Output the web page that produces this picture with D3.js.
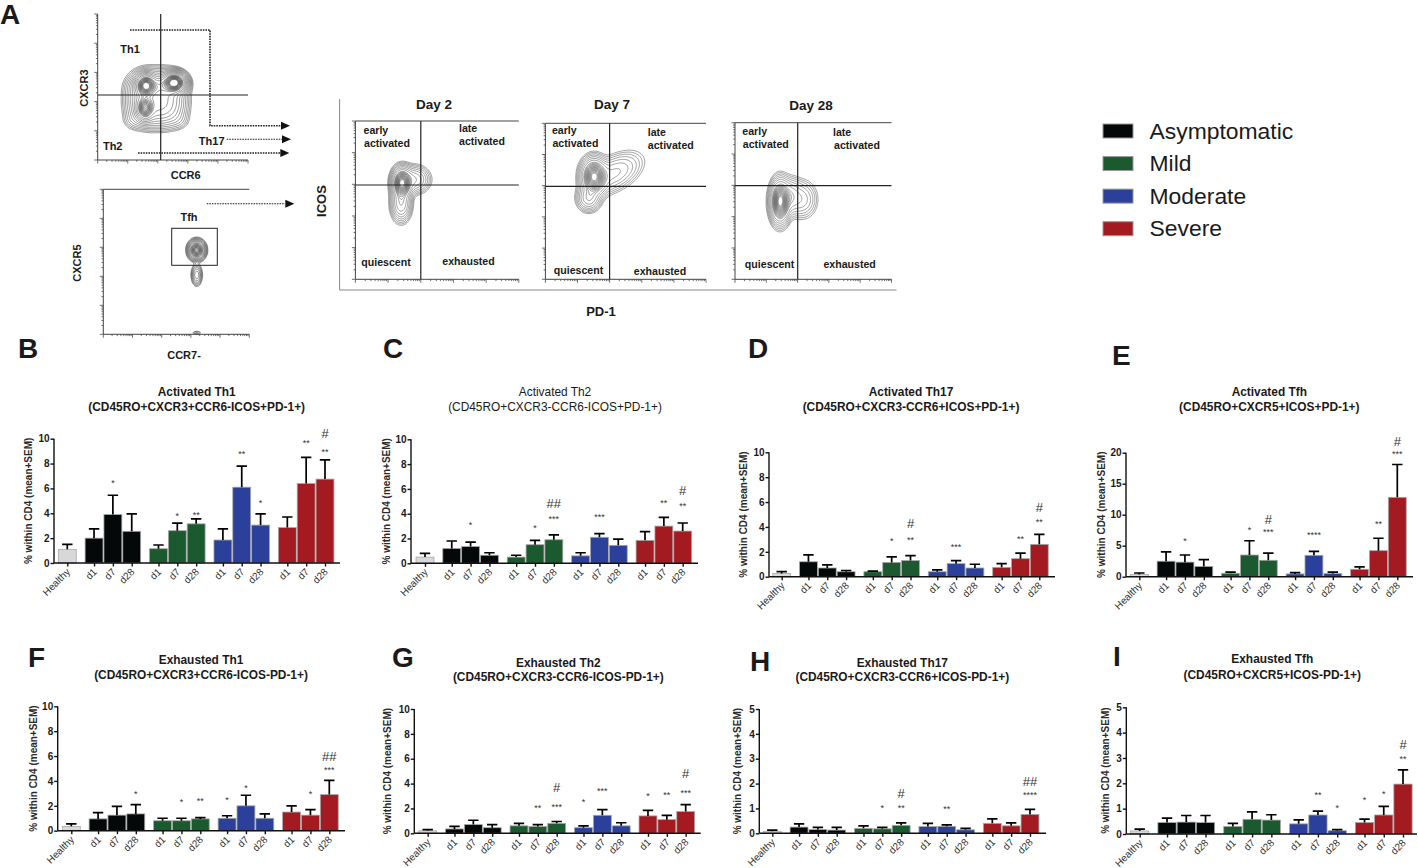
<!DOCTYPE html>
<html><head><meta charset="utf-8">
<script src="https://cdnjs.cloudflare.com/ajax/libs/d3/7.8.5/d3.min.js"></script>
<style>
html,body{margin:0;padding:0;background:#fff}
svg{display:block}
text{font-family:"Liberation Sans",Arial,sans-serif;fill:#1a1a1a}
</style></head><body>
<svg id="c" width="1418" height="868" viewBox="0 0 1418 868"></svg>
<script>
// ---------- DATA ----------
const barLabels = ["Healthy","d1","d7","d28","d1","d7","d28","d1","d7","d28","d1","d7","d28"];
const barGroups = ["healthy","Asymptomatic","Asymptomatic","Asymptomatic","Mild","Mild","Mild","Moderate","Moderate","Moderate","Severe","Severe","Severe"];
const legendLabels = ["Asymptomatic","Mild","Moderate","Severe"];
const yTitle = "% within CD4 (mean+SEM)";

const meanB = [1.1,2.0,3.9,2.55,1.15,2.6,3.15,1.85,6.1,3.05,2.85,6.4,6.75];
const topB  = [1.5,2.75,5.45,3.95,1.45,3.2,3.55,2.75,7.8,3.95,3.7,8.5,8.3];
const meanC = [0.5,1.2,1.35,0.65,0.5,1.5,1.9,0.6,2.1,1.45,1.85,3.0,2.6];
const topC  = [0.8,1.8,1.7,0.85,0.65,1.85,2.3,0.85,2.4,1.95,2.55,3.7,3.25];
const meanD = [0.25,1.2,0.7,0.4,0.4,1.15,1.3,0.4,1.05,0.7,0.75,1.45,2.6];
const topD  = [0.4,1.75,0.95,0.5,0.45,1.6,1.7,0.55,1.3,1.0,1.05,1.9,3.4];
const meanE = [0.35,2.5,2.35,1.65,0.55,3.5,2.65,0.45,3.45,0.5,1.2,4.2,12.8];
const topE  = [0.6,4.0,3.5,2.75,0.75,5.8,3.8,0.65,4.1,0.75,1.6,6.2,18.1];
const meanF = [0.35,0.95,1.25,1.35,0.8,0.8,0.95,1.0,2.0,1.0,1.5,1.25,2.9];
const topF  = [0.55,1.45,1.95,2.1,1.0,1.0,1.05,1.2,2.85,1.35,2.0,1.7,4.05];
const meanG = [0.2,0.35,0.7,0.45,0.6,0.55,0.8,0.45,1.45,0.6,1.4,1.1,1.75];
const topG  = [0.3,0.55,1.05,0.7,0.8,0.7,0.95,0.6,1.9,0.85,1.85,1.45,2.3];
const meanH = [0.08,0.25,0.15,0.13,0.2,0.18,0.32,0.27,0.28,0.14,0.4,0.3,0.76];
const topH  = [0.13,0.38,0.24,0.24,0.3,0.24,0.42,0.4,0.34,0.2,0.58,0.42,0.96];
const meanI = [0.12,0.45,0.47,0.45,0.3,0.58,0.55,0.4,0.75,0.13,0.45,0.75,1.97];
const topI  = [0.19,0.63,0.73,0.73,0.42,0.87,0.76,0.56,0.9,0.17,0.59,1.09,2.53];

// significance marks: [bar index, label, height in axis units]
const marksB = [[2,"*",6.55],[5,"*",3.9],[6,"**",4.0],[8,"**",8.9],[9,"*",5.0],[11,"**",9.8],[12,"**",9.1],[12,"#",10.4]];
const marksC = [[2,"*",3.2],[5,"*",3.0],[6,"***",3.75],[6,"##",4.8],[8,"***",3.9],[11,"**",5.0],[12,"**",4.8],[12,"#",5.85]];
const marksD = [[5,"*",3.0],[6,"**",3.1],[6,"#",4.3],[8,"***",2.55],[11,"**",3.2],[12,"**",4.55],[12,"#",5.6]];
const marksE = [[2,"*",6.05],[5,"*",7.8],[6,"***",7.45],[6,"#",9.3],[8,"****",7.0],[11,"**",8.85],[12,"***",20.1],[12,"#",21.8]];
const marksF = [[3,"*",3.1],[5,"*",2.45],[6,"**",2.5],[7,"*",2.65],[8,"*",3.6],[11,"*",3.1],[12,"***",5.05],[12,"##",5.95]];
const marksG = [[5,"**",2.2],[6,"***",2.3],[6,"#",3.65],[7,"*",2.7],[8,"***",3.55],[10,"*",3.15],[11,"**",3.25],[12,"***",3.4],[12,"#",4.8]];
const marksH = [[5,"*",1.1],[6,"**",1.1],[6,"#",1.62],[8,"**",1.05],[12,"****",1.6],[12,"##",2.1]];
const marksI = [[8,"**",1.6],[9,"*",1.1],[10,"*",1.42],[11,"*",1.65],[12,"**",3.05],[12,"#",3.55]];

// flow cytometry density peaks, in channel units (0-100 on each axis)
const blobsTh = [
 {x:39,y:42,sx:10.5,sy:10.5,w:.3,p:2.6},{x:24,y:27,sx:4,sy:3.5,w:.012},{x:54,y:27,sx:4,sy:3.5,w:.01},{x:32,y:51,sx:3.2,sy:3.6,w:.9},{x:51,y:53,sx:3.6,sy:3.2,w:1.1},{x:31.5,y:35.6,sx:2.8,sy:4,w:.7},{x:41,y:51,sx:7,sy:3,w:.12}];
const blobsTfh = [
 {x:64,y:58.1,sx:2.3,sy:2.7,w:1},{x:64,y:40.9,sx:1.6,sy:3.2,w:.09},{x:64,y:1,sx:1.8,sy:.7,w:.012}];
const blobsDay2 = [
 {x:28.5,y:60.8,sx:2.9,sy:4.6,w:1},{x:28,y:48,sx:3,sy:5.5,w:.3},{x:36,y:63,sx:4.6,sy:4.2,w:.2}];
const blobsDay7 = [
 {x:30.3,y:65.8,sx:3.8,sy:5.5,w:1},{x:27,y:52,sx:3.5,sy:4,w:.25},{x:43,y:68,sx:9,sy:5,w:.18,r:.55}];
const blobsDay28 = [
 {x:28.8,y:49.6,sx:3,sy:6.5,w:1},{x:43,y:51,sx:4.6,sy:5.8,w:.13},{x:35,y:53,sx:4,sy:5.5,w:.22}];

// ---------- LAYOUT ----------
const COL = {healthy:"#d8d8d8",Asymptomatic:"#050808",Mild:"#1b5a2f",Moderate:"#2b409a",Severe:"#a31b20"};
const panels = [
 {L:"B",lx:18,ly:358,t1:"Activated Th1",t2:"(CD45RO+CXCR3+CCR6-ICOS+PD-1+)",tx:196.7,ty:[392.3,406.7],bold:true,ax:54,y0:563,yt:438.7,c0:67.3,c1:325,end:340,max:10,step:2,ytx:29,mean:meanB,top:topB,marks:marksB},
 {L:"C",lx:383,ly:358,t1:"Activated Th2",t2:"(CD45RO+CXCR3-CCR6-ICOS+PD-1+)",tx:555,ty:[392.3,406.7],bold:false,ax:411,y0:563.3,yt:439.3,c0:425,c1:682.7,end:698,max:10,step:2,ytx:387,mean:meanC,top:topC,marks:marksC},
 {L:"D",lx:748,ly:358,t1:"Activated Th17",t2:"(CD45RO+CXCR3-CCR6+ICOS+PD-1+)",tx:911,ty:[392.3,406.7],bold:true,ax:769,y0:576.7,yt:452.3,c0:781.7,c1:1039.3,end:1055,max:10,step:2,ytx:743,mean:meanD,top:topD,marks:marksD},
 {L:"E",lx:1112,ly:365,t1:"Activated Tfh",t2:"(CD45RO+CXCR5+ICOS+PD-1+)",tx:1269.3,ty:[392.3,406.7],bold:true,ax:1126,y0:576.7,yt:452.7,c0:1139.3,c1:1397.3,end:1413,max:20,step:5,ytx:1102,mean:meanE,top:topE,marks:marksE},
 {L:"F",lx:28,ly:667,t1:"Exhausted Th1",t2:"(CD45RO+CXCR3+CCR6-ICOS-PD-1+)",tx:201,ty:[660,674.7],bold:true,ax:57.7,y0:830.7,yt:706.3,c0:71.3,c1:329.3,end:345,max:10,step:2,ytx:33,mean:meanF,top:topF,marks:marksF},
 {L:"G",lx:392,ly:667,t1:"Exhausted Th2",t2:"(CD45RO+CXCR3-CCR6-ICOS-PD-1+)",tx:558.3,ty:[662.7,677.3],bold:true,ax:414.3,y0:833.3,yt:709,c0:427.7,c1:685.7,end:700.7,max:10,step:2,ytx:388,mean:meanG,top:topG,marks:marksG},
 {L:"H",lx:750,ly:671,t1:"Exhausted Th17",t2:"(CD45RO+CXCR3-CCR6+ICOS-PD-1+)",tx:902.3,ty:[662.7,677],bold:true,ax:759.3,y0:833.3,yt:709,c0:772.3,c1:1030,end:1046,max:5,step:1,ytx:738,mean:meanH,top:topH,marks:marksH},
 {L:"I",lx:1113,ly:666,t1:"Exhausted Tfh",t2:"(CD45RO+CXCR5+ICOS-PD-1+)",tx:1272.3,ty:[659.3,674.7],bold:true,ax:1126.3,y0:834,yt:707.3,c0:1139.7,c1:1403,end:1417,max:5,step:1,ytx:1106,mean:meanI,top:topI,marks:marksI}
];
// contour levels: rings running from floor to mid, then from mid to the peak
const flows = [
 {x:[97.7,248],y:[160,14],blobs:blobsTh,vg:160.7,hg:95,top:false,floor:.0055,mid:.35,n1:11,n2:12,line:"#444"},
 {x:[103.3,249.3],y:[334.3,189.3],blobs:blobsTfh,top:true,floor:.004,mid:.1,n1:7,n2:13,line:"#444"},
 {x:[355.4,518.8],y:[279.3,121],blobs:blobsDay2,vg:420.8,hg:185,top:true,floor:.012,mid:.3,n1:8,n2:14,line:"#555"},
 {x:[545.4,706],y:[279.3,123.3],blobs:blobsDay7,vg:609.6,hg:186.3,top:true,floor:.012,mid:.25,n1:7,n2:14,line:"#555"},
 {x:[735,891.5],y:[279.3,122.7],blobs:blobsDay28,vg:797.7,hg:185.7,top:true,floor:.012,mid:.25,n1:7,n2:15,line:"#555"}
];
const svg = d3.select("#c");
const FONT = '"Liberation Sans",Arial,sans-serif';
function txt(g,x,y,s,o={}){
  const t=g.append("text").attr("x",x).attr("y",y).text(s)
    .attr("font-size",o.fs||10).attr("font-weight",o.b?"bold":"normal").attr("text-anchor",o.a||"middle");
  if(o.rot!=null) t.attr("transform",`rotate(${o.rot} ${x} ${y})`);
  if(o.fill) t.style("fill",o.fill);
  return t;
}

// ---------- FLOW PLOTS ----------
function density(blobs,u,v){
  let s=0;
  for(const b of blobs){
    let dx=u-b.x,dy=v-b.y;
    if(b.r){const c=Math.cos(b.r),k=Math.sin(b.r),a=dx*c+dy*k;dy=-dx*k+dy*c;dx=a;}
    const p=b.p||2;
    s+=b.w*Math.exp(-0.5*(Math.pow(Math.abs(dx/b.sx),p)+Math.pow(Math.abs(dy/b.sy),p)));
  }
  return s;
}
flows.forEach(f=>{
  const g=svg.append("g");
  const sx=d3.scaleLinear().domain([0,100]).range(f.x), sy=d3.scaleLinear().domain([0,100]).range(f.y);
  const N=160,vals=new Float64Array(N*N);
  for(let j=0;j<N;j++)for(let i=0;i<N;i++)vals[j*N+i]=density(f.blobs,(i+.5)*100/N,100-(j+.5)*100/N);
  const th=d3.range(f.n1).map(k=>f.floor*Math.pow(f.mid/f.floor,k/f.n1))
    .concat(d3.range(f.n2).map(k=>f.mid+(.95-f.mid)*k/(f.n2-1)));
  const cs=d3.contours().size([N,N]).thresholds(th)(Array.from(vals));
  const path=d3.geoPath(d3.geoTransform({point(x,y){this.stream.point(sx(x*100/N),sy(100-y*100/N));}}));
  g.selectAll("path.c").data(cs).join("path").attr("class","c").attr("d",path).attr("fill","none").attr("stroke",f.line).attr("stroke-width",.55);
  // log decade axes
  const lx=d3.scaleLog().domain([1,1e5]).range(f.x), ly=d3.scaleLog().domain([1,1e5]).range(f.y);
  const ticks=(scale,horizontal)=>{
    scale.ticks().forEach(v=>{
      const major=Math.abs(Math.log10(v)%1)<1e-6, len=major?3.5:1.8, p=scale(v);
      g.append("line").attr("stroke","#333").attr("stroke-width",.7)
        .attr("x1",horizontal?p:f.x[0]).attr("x2",horizontal?p:f.x[0]-len)
        .attr("y1",horizontal?f.y[0]:p).attr("y2",horizontal?f.y[0]+len:p);
    });
  };
  ticks(lx,true);ticks(ly,false);
  const frame=[[f.x[0],f.y[1],f.x[0],f.y[0]],[f.x[0],f.y[0],f.x[1],f.y[0]]];
  if(f.top) frame.push([f.x[0],f.y[1],f.x[1],f.y[1]]);
  frame.forEach(l=>g.append("line").attr("x1",l[0]).attr("y1",l[1]).attr("x2",l[2]).attr("y2",l[3]).attr("stroke","#444").attr("stroke-width",1));
  if(f.vg){
    g.append("line").attr("x1",f.vg).attr("x2",f.vg).attr("y1",f.y[1]).attr("y2",f.y[0]).attr("stroke","#222").attr("stroke-width",1.2);
    g.append("line").attr("x1",f.x[0]).attr("x2",f.x[1]).attr("y1",f.hg).attr("y2",f.hg).attr("stroke","#222").attr("stroke-width",1.2);
  }
});
const A=svg.append("g");
const bf={fs:11,b:true};
txt(A,0,24,"A",{fs:28,b:true,a:"start"});
txt(A,130,53,"Th1",bf);txt(A,112.7,150,"Th2",bf);txt(A,211.7,145,"Th17",bf);
txt(A,185.7,178.5,"CCR6",bf);txt(A,88,88,"CXCR3",{fs:11,b:true,rot:-90});
txt(A,189,221,"Tfh",bf);txt(A,184,359,"CCR7-",bf);txt(A,81,263,"CXCR5",{fs:11,b:true,rot:-90});
A.append("rect").attr("x",171.7).attr("y",228.3).attr("width",45.6).attr("height",37).attr("fill","none").attr("stroke","#222").attr("stroke-width",1);
// gating arrows
const arrowPaths=[
 {d:"M130,30H210V125.7H281",tip:[290,125.7],w:1.6},
 {d:"M226.7,139.3H282",tip:[291,139.3],w:1.1},
 {d:"M138,153H280",tip:[289.3,153],w:1.4},
 {d:"M206.7,203.7H285",tip:[294.3,203.7],w:1.1}];
arrowPaths.forEach(a=>{
  A.append("path").attr("d",a.d).attr("fill","none").attr("stroke","#222").attr("stroke-width",a.w).attr("stroke-dasharray","1.6 1");
  A.append("path").attr("d",`M${a.tip[0]},${a.tip[1]}l-9,-4v8z`).attr("fill","#111");
});
// day panels
const dayLabels=[
 {t:"Day 2",x:434,y:108.5,ea:[387,134,147],la:[459,132,482,145],q:[386,266],e:[468.5,265]},
 {t:"Day 7",x:612,y:108.5,ea:[575.4,134,147],la:[647.7,136,670.8,149],q:[578.5,274],e:[660,275]},
 {t:"Day 28",x:811,y:109.5,ea:[765.8,135,148],la:[833,136,857,149],q:[769.6,268],e:[849.6,268]}];
const df={fs:10.6,b:true};
dayLabels.forEach(d=>{
  txt(A,d.x,d.y,d.t,{fs:13.5,b:true});
  txt(A,d.ea[0]-23.5,d.ea[1],"early",{fs:10.6,b:true,a:"start"});
  txt(A,d.ea[0],d.ea[2],"activated",df);
  txt(A,d.la[0],d.la[1],"late",{fs:10.6,b:true,a:"start"});
  txt(A,d.la[2],d.la[3],"activated",df);
  txt(A,d.q[0],d.q[1],"quiescent",df);
  txt(A,d.e[0],d.e[1],"exhausted",df);
});
A.append("path").attr("d","M339.6,99V290H896.5").attr("fill","none").attr("stroke","#888").attr("stroke-width",1);
txt(A,326,201,"ICOS",{fs:13,b:true,rot:-90});
txt(A,601,315.5,"PD-1",{fs:13,b:true});

// ---------- LEGEND ----------
const lg=svg.append("g");
const lgY=d3.scalePoint().domain(legendLabels).range([131,228.7]);
legendLabels.forEach(n=>{
  lg.append("rect").attr("x",1103).attr("y",lgY(n)-7).attr("width",30).attr("height",14).attr("fill",COL[n]).attr("stroke","#999").attr("stroke-width",1);
  txt(lg,1149.5,lgY(n)+7.5,n,{fs:22.9,a:"start"});
});

// ---------- BAR PANELS ----------
const slotOf=i=>i===0?0:1.42+Math.floor((i-1)/3)*3.42+(i-1)%3;
panels.forEach(p=>{
  const g=svg.append("g");
  txt(g,p.lx,p.ly,p.L,{fs:28,b:true,a:"start"});
  txt(g,p.tx,p.ty[0]+4,p.t1,{fs:11.9,b:p.bold});
  txt(g,p.tx,p.ty[1]+4,p.t2,{fs:11.9,b:p.bold});
  const x=d3.scaleLinear().domain([0,slotOf(12)]).range([p.c0,p.c1]);
  const y=d3.scaleLinear().domain([0,p.max]).range([p.y0,p.yt]);
  const bw=(p.c1-p.c0)/slotOf(12)*.95;
  const idx=d3.range(barLabels.length);
  g.selectAll("rect.b").data(idx).join("rect").attr("class","b")
    .attr("x",i=>x(slotOf(i))-bw/2).attr("width",bw)
    .attr("y",i=>y(p.mean[i])).attr("height",i=>y(0)-y(p.mean[i]))
    .attr("fill",i=>COL[barGroups[i]]).attr("stroke","#a8a8a8").attr("stroke-width",.8);
  g.selectAll("path.e").data(idx).join("path").attr("class","e")
    .attr("d",i=>{const cx=x(slotOf(i));return `M${cx},${y(p.mean[i])}V${y(p.top[i])}M${cx-5.2},${y(p.top[i])}H${cx+5.2}`;})
    .attr("fill","none").attr("stroke","#000").attr("stroke-width",1.7);
  // axes
  const yAxis=d3.axisLeft(y).tickValues(d3.range(0,p.max+.001,p.step)).tickFormat(d3.format("d")).tickSize(3.5).tickPadding(1);
  const ya=g.append("g").attr("transform",`translate(${p.ax},0)`).call(yAxis);
  ya.selectAll("path,line").attr("stroke","#111").attr("stroke-width",1.4);
  ya.select("path").attr("d",`M0,${p.yt}V${p.y0}`);
  ya.selectAll("text").attr("font-family",FONT).attr("font-size",10).attr("font-weight","bold");
  const xAxis=d3.axisBottom(x).tickValues(idx.map(slotOf)).tickFormat("").tickSize(3.5);
  const xa=g.append("g").attr("transform",`translate(0,${p.y0})`).call(xAxis);
  xa.select("path").attr("d",`M${p.ax},0H${p.end}`);
  xa.selectAll("path,line").attr("stroke","#111").attr("stroke-width",1.4);
  idx.forEach(i=>{
    const cx=x(slotOf(i))+3.5,cy=p.y0+9.5;
    txt(g,cx,cy,barLabels[i],{fs:10,a:"end",rot:-45,fill:"#333"});
  });
  txt(g,p.ytx+3.5,(p.y0+p.yt)/2,yTitle,{fs:10,b:true,rot:-90,fill:"#2a2a2a"});
  // significance marks
  p.marks.forEach(m=>{
    const cx=x(slotOf(m[0])),hash=m[1][0]==="#";
    if(hash) txt(g,cx,y(m[2])+4.5,m[1],{fs:13,fill:"#333"});
    else txt(g,cx,y(m[2])+4.8,m[1],{fs:9,fill:"#333"});
  });
});
</script>
</body></html>
